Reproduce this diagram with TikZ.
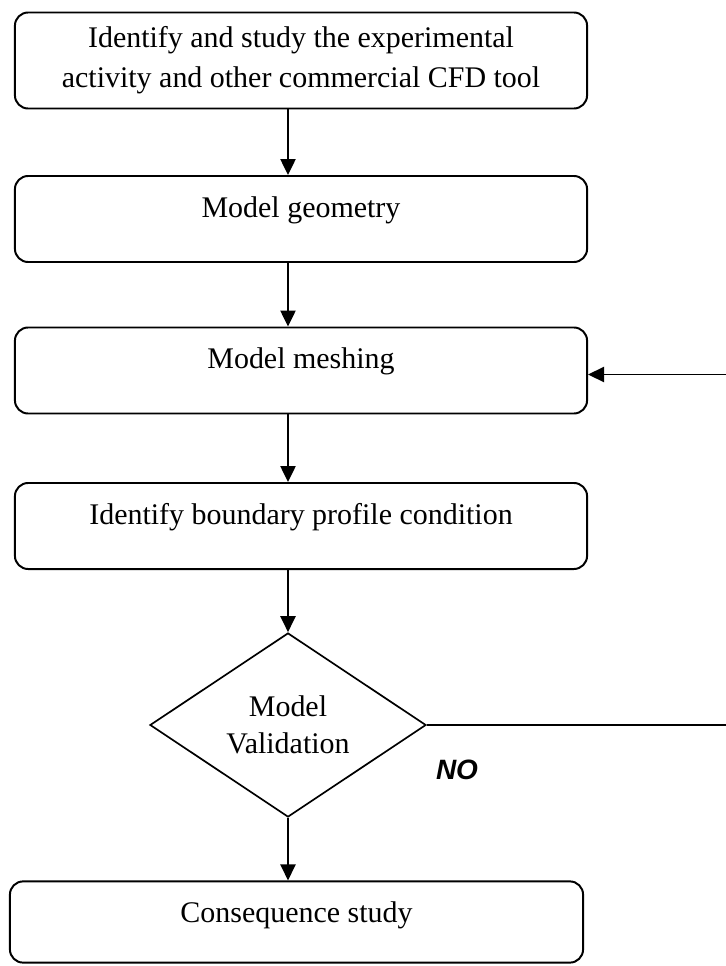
\documentclass[tikz,border=0pt]{standalone}
\usepackage{fontspec}
\setmainfont{Liberation Serif}
\newfontfamily\labelfont{Liberation Sans}
\usetikzlibrary{shapes.geometric,arrows.meta}
\tikzset{
  stage/.style={draw,line width=1.4pt,rounded corners=0.33cm,inner sep=0pt,align=center,minimum width=14.3cm},
  oneline/.style={text height=1.03cm,text depth=1.12cm},
  check/.style={draw,diamond,line width=1.2pt,inner sep=0pt,align=center,minimum width=6.9cm,minimum height=4.6cm},
  flow/.style={->,line width=1.3pt},
  >={Triangle[length=0.4cm,width=0.38cm]}
}
\begin{document}
\begin{tikzpicture}[x=0.025cm,y=-0.025cm,font=\fontsize{21.3}{28.4}\selectfont]
\useasboundingbox (0,0) rectangle (725,966);

% Process boxes
\node[stage,minimum height=2.4cm] (study) at (301,60.5) {Identify and study the experimental\\activity and other commercial CFD tool};
\node[stage,oneline] (geom) at (301,219) {Model geometry};
\node[stage,oneline] (mesh) at (301,370.5) {Model meshing};
\node[stage,oneline] (bound) at (301,526) {Identify boundary profile condition};
\node[stage,oneline,text depth=1cm,minimum width=14.325cm] (conseq) at (296.5,922) {Consequence study};

% Decision
\node[check,font=\fontsize{21.3}{26.4}\selectfont] (valid) at (288,725) {Model\\Validation};
\node[font=\labelfont\fontsize{19.9}{24}\selectfont\bfseries\itshape] (no) at (457,770) {NO};

% Connectors
\draw[flow] (study.south -| valid.north) -- (geom.north -| valid.north);
\draw[flow] (geom.south -| valid.north) -- (mesh.north -| valid.north);
\draw[flow] (mesh.south -| valid.north) -- (bound.north -| valid.north);
\draw[flow] (bound.south -| valid.north) -- (valid.north);
\draw[flow] (valid.south) -- (conseq.north -| valid.south);

% Loop back (runs off the right edge)
\coordinate (back) at (740,725);
\draw[flow] (valid.east) -- (back) |- ([yshift=-0.1cm]mesh.east);
\end{tikzpicture}
\end{document}
